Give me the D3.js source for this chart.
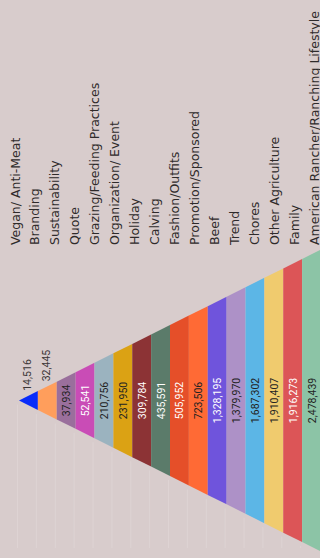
<!DOCTYPE html>
<html>
<head>
  <meta charset="UTF-8">
  <title>Post topics pyramid</title>
  <script src="https://d3js.org/d3.v7.min.js"></script>
  <style>
    html, body { margin: 0; padding: 0; background: #d8cccc; }
    svg { display: block; }
  </style>
</head>
<body>
  <script>
    // categories, narrowest (tip) first
    var categories = ['Vegan/ Anti-Meat', 'Branding', 'Sustainability', 'Quote',
      'Grazing/Feeding Practices', 'Organization/ Event', 'Holiday', 'Calving',
      'Fashion/Outfits', 'Promotion/Sponsored', 'Beef', 'Trend', 'Chores',
      'Other Agriculture', 'Family', 'American Rancher/Ranching Lifestyle'];
    var values = [14516, 32445, 37934, 52541, 210756, 231950, 309784, 435591,
      505952, 723506, 1328195, 1379970, 1687302, 1910407, 1916273, 2478439];

    // styling
    var bandColors = ['#0a2cfa', '#ff9e5c', '#9a6f9c', '#c94cb6', '#9bb3bf',
      '#dba214', '#8c3335', '#5b7b6a', '#e54f29', '#ff6a35', '#6f54dc',
      '#ad91c7', '#5cb6e6', '#f0cb6e', '#dc5557', '#8cc4a6'];
    var inkColors = ['#333', '#333', '#222', '#fff', '#222', '#222', '#fff', '#fff',
      '#fff', '#222', '#fff', '#222', '#222', '#222', '#fff', '#222'];

    var width = 320, height = 558;
    var cy = 400.5;
    var fmt = d3.format(',');

    var svg = d3.select('body').append('svg')
      .attr('width', width)
      .attr('height', height);

    // position along the pyramid, tip to base
    var x = d3.scaleBand().domain(categories).range([19, 321]).paddingInner(0);
    // half-height of the pyramid at a given x
    var half = d3.scaleLinear().domain([19, 321]).range([0, 151]);
    // category label positions (baselines)
    var lx = d3.scalePoint().domain(categories).range([19.5, 318.5]);

    var data = categories.map(function (c, i) {
      return { cat: c, value: values[i], i: i };
    });

    // faint guide lines below the pyramid
    svg.append('g').selectAll('line')
      .data(data)
      .join('line')
      .attr('x1', function (d) { return x(d.cat) - 1.5; })
      .attr('x2', function (d) { return x(d.cat) - 1.5; })
      .attr('y1', function (d) { return cy + half(x(d.cat)) + 4; })
      .attr('y2', 548)
      .attr('stroke', '#e2d9d9')
      .attr('stroke-width', 1)
      .attr('opacity', 0.6);

    svg.append('g').selectAll('path')
      .data(data)
      .join('path')
      .attr('d', function (d) {
        var x0 = x(d.cat), x1 = x0 + x.bandwidth();
        return 'M' + x0 + ',' + (cy - half(x0)) +
          'L' + x1 + ',' + (cy - half(x1)) +
          'L' + x1 + ',' + (cy + half(x1)) +
          'L' + x0 + ',' + (cy + half(x0)) + 'Z';
      })
      .attr('fill', function (d) { return bandColors[d.i]; });

    // value labels
    var vals = svg.append('g').selectAll('text')
      .data(data)
      .join('text')
      .attr('font-family', 'Roboto, sans-serif')
      .attr('font-size', 10.5)
      .attr('dominant-baseline', 'central')
      .text(function (d) { return fmt(d.value); });

    vals.each(function (d) {
      var t = d3.select(this);
      var len = this.getComputedTextLength();
      var xc = x(d.cat) + x.bandwidth() / 2;
      var room = 2 * half(xc);
      if (len + 6 > room) {
        // does not fit: put it above the band
        t.attr('text-anchor', 'start')
          .attr('fill', '#3a3535')
          .attr('transform', 'translate(' + (xc - 0.5) + ',' + (cy - half(xc) - 5) + ') rotate(-90)');
      } else {
        t.attr('text-anchor', 'middle')
          .attr('fill', inkColors[d.i])
          .attr('transform', 'translate(' + (xc + 0.5) + ',' + cy + ') rotate(-90)');
      }
    });

    // category labels
    svg.append('g').selectAll('text')
      .data(data)
      .join('text')
      .attr('transform', function (d) { return 'translate(' + lx(d.cat) + ',245) rotate(-90)'; })
      .attr('font-family', 'DejaVu Sans, sans-serif')
      .attr('font-size', 12.5)
      .attr('fill', '#2e2a2a')
      .text(function (d) { return d.cat; });
  </script>
</body>
</html>
